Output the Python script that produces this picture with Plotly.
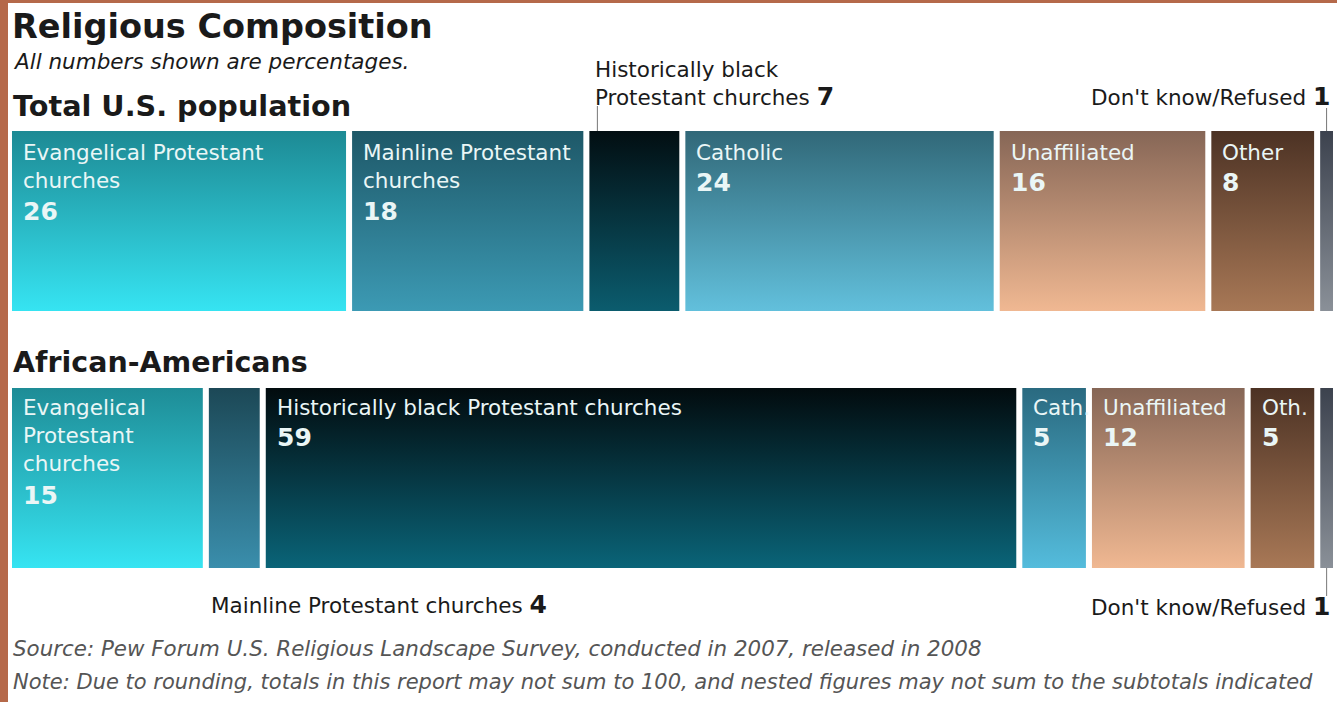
import plotly.graph_objects as go

# ---------------- data ----------------
categories = ["Evangelical Protestant churches", "Mainline Protestant churches",
              "Historically black Protestant churches", "Catholic", "Unaffiliated",
              "Other", "Don't know/Refused"]
total_values = [26, 18, 7, 24, 16, 8, 1]
aa_values = [15, 4, 59, 5, 12, 5, 1]

total_inside_labels = ["Evangelical Protestant<br>churches", "Mainline Protestant<br>churches",
                       None, "Catholic", "Unaffiliated", "Other", None]
aa_inside_labels = ["Evangelical<br>Protestant<br>churches", None,
                    "Historically black Protestant churches", "Cath.", "Unaffiliated", "Oth.", None]

row_titles = ["Total U.S. population", "African-Americans"]

# gradient colours (top, bottom) per segment
total_colors = [("#1d8a94", "#36e4f2"), ("#1e5868", "#3c9ab4"), ("#020e12", "#0b5c6e"),
                ("#316878", "#62c0dc"), ("#866656", "#f0b892"), ("#4c3224", "#a87856"),
                ("#3c424e", "#8a9098")]
aa_colors = [("#1e8c96", "#36e4f2"), ("#1c4856", "#3a8eac"), ("#020b0e", "#0a6478"),
             ("#2a6a80", "#54bcdc"), ("#866656", "#f0b892"), ("#4c3224", "#a87856"),
             ("#3c424e", "#8a9098")]

# ---------------- geometry ----------------
W, H = 1337, 702
GAP = 0.47                      # gap between segments, in % units
LEFT_PX, RIGHT_PX = 12, 1333
k = (RIGHT_PX - LEFT_PX) / (100 + 6 * GAP)   # px per unit
XMIN = -LEFT_PX / k
XMAX = XMIN + W / k
ROW_TOP_PX = [131, 388]
BAR_H = 180

def ypx(p):
    return H - p

def segments(values):
    tot = sum(values)
    out, x = [], 0.0
    for v in values:
        w = v * 100.0 / tot
        out.append((x, x + w))
        x += w + GAP
    return out

fig = go.Figure()
annotations = []
shapes = []

INK = "#1a1a1a"
LIGHT = "#eaf6f6"
FONT = "DejaVu Sans"
LAB = 21.5

rows = [(total_values, total_colors, total_inside_labels),
        (aa_values, aa_colors, aa_inside_labels)]
row_segs = []
for r, (vals, cols, labs) in enumerate(rows):
    segs = segments(vals)
    row_segs.append(segs)
    y_top = ypx(ROW_TOP_PX[r])
    y_bot = ypx(ROW_TOP_PX[r] + BAR_H)
    for i, ((x0, x1), v, (ctop, cbot)) in enumerate(zip(segs, vals, cols)):
        fig.add_trace(go.Scatter(
            x=[x0, x1, x1, x0, x0], y=[y_bot, y_bot, y_top, y_top, y_bot],
            mode="lines", line=dict(width=0), fill="toself",
            fillcolor=ctop,
            fillgradient=dict(type="vertical", colorscale=[[0, cbot], [1, ctop]]),
            name=categories[i], hoverinfo="text",
            text=f"{row_titles[r]}<br>{categories[i]}: {v}%",
            showlegend=False))
        lab = labs[i]
        if lab is not None:
            nlines = lab.count("<br>") + 1
            tx = x0 + 9 / k
            first_c = ROW_TOP_PX[r] + (18 if r == 0 else 16)
            annotations.append(dict(
                x=tx, y=ypx(first_c - 11), xref="x", yref="y", xanchor="left", yanchor="top",
                text=lab, showarrow=False, align="left",
                font=dict(family=FONT, size=LAB, color=LIGHT)))
            num_c = first_c + 29 * nlines + 4
            annotations.append(dict(
                x=tx, y=ypx(num_c), xref="x", yref="y", xanchor="left", yanchor="middle",
                text=f"<b>{v}</b>", showarrow=False,
                font=dict(family=FONT, size=25, color=LIGHT)))

# ---------------- outside labels ----------------
s0 = row_segs[0]
s1 = row_segs[1]
# Historically black (total)
annotations.append(dict(x=s0[2][0] + 4 / k, y=ypx(55), xref="x", yref="y", xanchor="left",
                        yanchor="top", align="left", showarrow=False,
                        text=f"Historically black<br>Protestant churches <span style='font-size:25px'><b>{total_values[2]}</b></span>",
                        font=dict(family=FONT, size=LAB, color=INK)))
shapes.append(dict(type="line", xref="x", yref="y", x0=s0[2][0] + 8 / k, x1=s0[2][0] + 8 / k,
                   y0=ypx(106), y1=ypx(131), line=dict(color="#777", width=1)))
# Don't know (total)
dk0 = (s0[6][0] + s0[6][1]) / 2
annotations.append(dict(x=dk0 + 5 / k, y=ypx(96), xref="x", yref="y", xanchor="right",
                        yanchor="middle", showarrow=False,
                        text=f"Don't know/Refused <span style='font-size:25px'><b>{total_values[6]}</b></span>",
                        font=dict(family=FONT, size=LAB, color=INK)))
shapes.append(dict(type="line", xref="x", yref="y", x0=dk0, x1=dk0,
                   y0=ypx(108), y1=ypx(131), line=dict(color="#777", width=1)))
# Mainline (AA)
annotations.append(dict(x=s1[1][0], y=ypx(604), xref="x", yref="y", xanchor="left",
                        yanchor="middle", showarrow=False,
                        text=f"Mainline Protestant churches <span style='font-size:25px'><b>{aa_values[1]}</b></span>",
                        font=dict(family=FONT, size=LAB, color=INK)))
# Don't know (AA)
dk1 = (s1[6][0] + s1[6][1]) / 2
annotations.append(dict(x=dk0 + 5 / k, y=ypx(606), xref="x", yref="y", xanchor="right",
                        yanchor="middle", showarrow=False,
                        text=f"Don't know/Refused <span style='font-size:25px'><b>{aa_values[6]}</b></span>",
                        font=dict(family=FONT, size=LAB, color=INK)))
shapes.append(dict(type="line", xref="x", yref="y", x0=dk1, x1=dk1,
                   y0=ypx(568), y1=ypx(596), line=dict(color="#777", width=1)))

# ---------------- titles & notes ----------------
def ptext(px, py, text, size, color=INK, anchor="middle"):
    annotations.append(dict(x=px / W, y=1 - py / H, xref="paper", yref="paper",
                            xanchor="left", yanchor=anchor, text=text, showarrow=False,
                            font=dict(family=FONT, size=size, color=color)))

ptext(10, 27, "<b>Religious Composition</b>", 33.5)
ptext(11, 61, "<i>All numbers shown are percentages.</i>", 21.5)
ptext(11, 106, f"<b>{row_titles[0]}</b>", 28.7)
ptext(11, 362, f"<b>{row_titles[1]}</b>", 28.5)
ptext(11, 648, "<i>Source: Pew Forum U.S. Religious Landscape Survey, conducted in 2007, released in 2008</i>", 21.4, "#555555")
ptext(11, 682, "<i>Note: Due to rounding, totals in this report may not sum to 100, and nested figures may not sum to the subtotals indicated</i>", 21.0, "#555555")

# brown frame (left & top)
shapes.append(dict(type="rect", xref="paper", yref="paper", x0=0, x1=8 / W, y0=0, y1=1,
                   fillcolor="#b5694a", line=dict(width=0), layer="above"))
shapes.append(dict(type="rect", xref="paper", yref="paper", x0=0, x1=1, y0=1 - 3 / H, y1=1,
                   fillcolor="#b5694a", line=dict(width=0), layer="above"))

fig.update_layout(
    width=W, height=H, margin=dict(l=0, r=0, t=0, b=0),
    paper_bgcolor="white", plot_bgcolor="white",
    xaxis=dict(range=[XMIN, XMAX], visible=False, fixedrange=True),
    yaxis=dict(range=[0, H], visible=False, fixedrange=True),
    annotations=annotations, shapes=shapes, showlegend=False,
)

fig.write_html("out.html", config={"displayModeBar": False},
               post_script="document.body.style.margin='0';document.body.style.overflow='hidden';")
